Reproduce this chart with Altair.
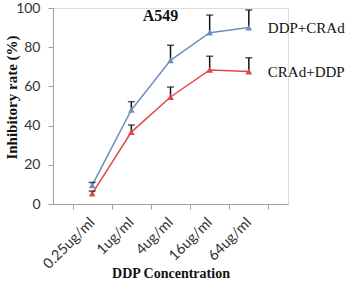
import altair as alt
import pandas as pd

categories = ["0.25ug/ml", "1ug/ml", "4ug/ml", "16ug/ml", "64ug/ml"]
ddp_crad = [9.5, 48.0, 73.3, 87.4, 90.0]
ddp_crad_err = [1.5, 4.2, 7.7, 9.0, 9.0]
crad_ddp = [5.3, 36.7, 54.6, 68.4, 67.6]
crad_ddp_err = [1.3, 3.6, 5.1, 7.0, 7.0]
series = ["DDP+CRAd", "CRAd+DDP"]
line_colors = ["#6E8FC0", "#E04848"]
marker_colors = ["#24498C", "#C8141C"]

rows = []
for s, vals, errs in [(series[0], ddp_crad, ddp_crad_err), (series[1], crad_ddp, crad_ddp_err)]:
    for i, (c, v, e) in enumerate(zip(categories, vals, errs)):
        rows.append({"series": s, "conc": c, "value": v, "upper": v + e,
                     "label": s if i == len(categories) - 1 else ""})
df = pd.DataFrame(rows)

x = alt.X("conc:N", sort=categories, title="DDP Concentration",
          scale=alt.Scale(paddingInner=0, paddingOuter=0.5),
          axis=alt.Axis(labelAngle=-45, labelFont="Lato", labelFontSize=14.5,
                        labelColor="#333333", labelPadding=11,
                        labelAlign="right", labelBaseline="middle",
                        titleFont="Liberation Serif", titleFontSize=14,
                        titleFontWeight="bold", titleColor="#111111",
                        titleY=73, titleBaseline="alphabetic",
                        domainColor="#A0A0A0", tickColor="#A0A0A0", tickSize=5,
                        tickBand="extent", ticks=True))

y_axis = alt.Axis(values=[0, 20, 40, 60, 80, 100], grid=False, labelOverlap=False,
                  labelFont="Lato", labelFontSize=14, labelColor="#333333",
                  labelPadding=8,
                  titleFont="Liberation Serif", titleFontSize=15,
                  titleFontWeight="bold", titleColor="#111111",
                  titleX=-42, titleY=89, titleBaseline="middle", titleAlign="center",
                  domainColor="#A0A0A0", tickColor="#A0A0A0", tickSize=5)
y_scale = alt.Scale(domain=[0, 100], nice=False)
y = alt.Y("value:Q", title="Inhibitory rate (%)", scale=y_scale, axis=y_axis)
y_up = alt.Y("upper:Q", title="Inhibitory rate (%)", scale=y_scale, axis=y_axis)

color_line = alt.Color("series:N", scale=alt.Scale(domain=series, range=line_colors), legend=None)
color_mark = alt.Color("series:N", scale=alt.Scale(domain=series, range=marker_colors), legend=None)

base = alt.Chart(df)

lines = base.mark_line(strokeWidth=1.5).encode(x=x, y=y, color=color_line, detail="series:N")
err = base.mark_rule(color="#111111", strokeWidth=1.5).encode(x=x, y=y, y2="upper:Q")
caps = base.mark_tick(color="#111111", thickness=1.5, size=7).encode(x=x, y=y_up)
pts = base.mark_point(shape="triangle-up", filled=True, size=45, opacity=1).encode(
    x=x, y=y, color=color_mark)
labels = base.mark_text(align="left", baseline="middle", dx=19, font="Liberation Serif",
                        fontSize=15, color="#111111").encode(x=x, y=y, text="label:N")

chart = alt.layer(lines, err, caps, pts, labels).properties(
    width=235, height=196,
    title=alt.TitleParams("A549", font="Liberation Serif", fontSize=16, fontWeight="bold",
                          color="#111111", anchor="middle", dy=27, dx=-10),
    autosize=alt.AutoSizeParams(type="none"),
    padding={"left": 53, "top": 8, "right": 71, "bottom": 79},
).configure_view(stroke=None).configure(background="white")

chart.save("out.html", embed_options={"renderer": "svg", "actions": False})
